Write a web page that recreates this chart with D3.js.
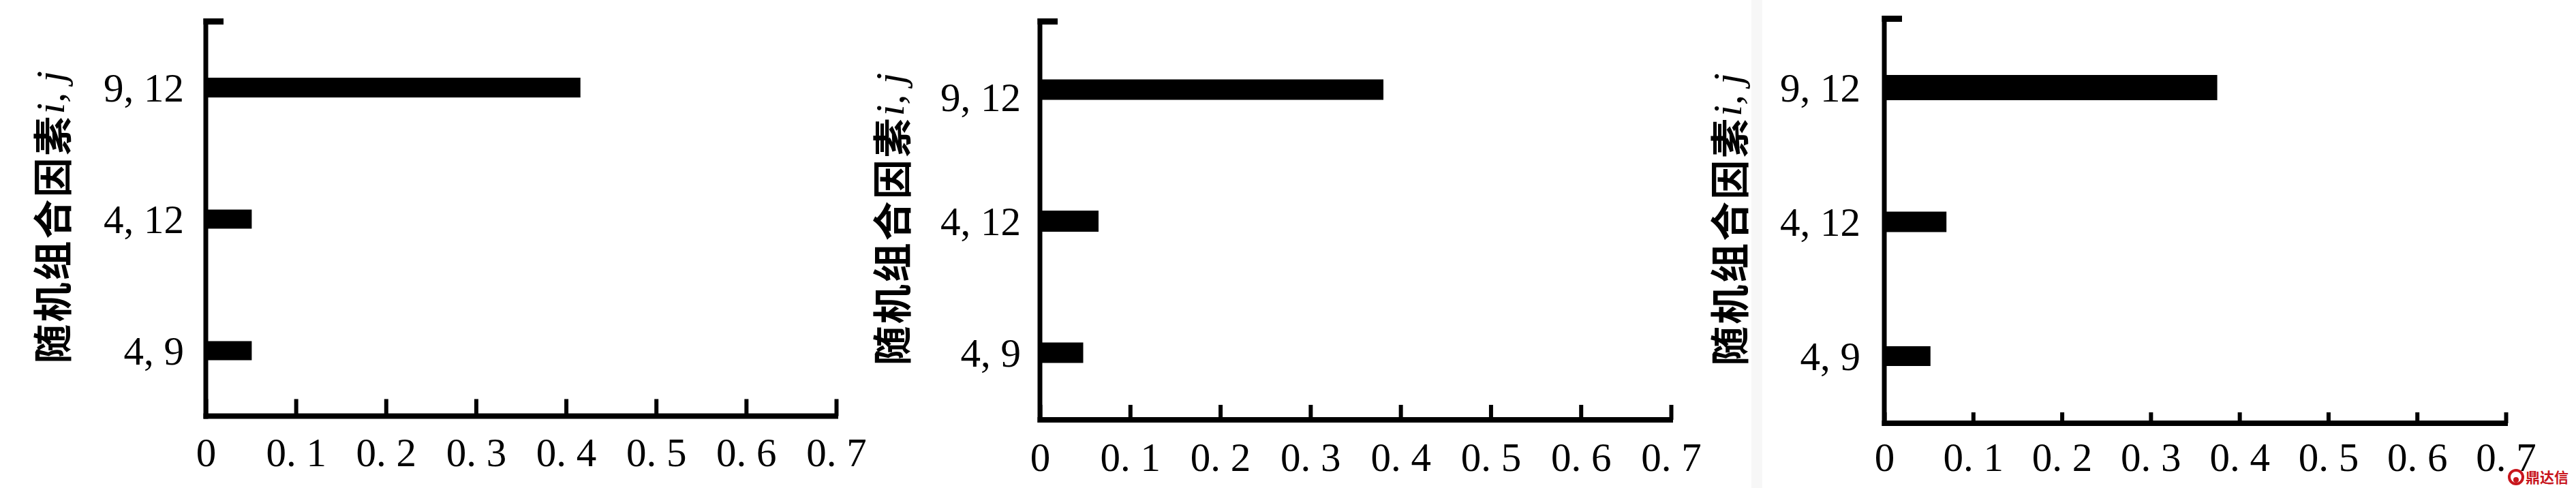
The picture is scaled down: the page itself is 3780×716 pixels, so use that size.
<!DOCTYPE html>
<html>
<head>
<meta charset="utf-8">
<script src="https://cdn.jsdelivr.net/npm/d3@7"></script>
<style>
  html, body { margin: 0; padding: 0; background: #ffffff; }
  svg { display: block; }
</style>
</head>
<body>
<script>
// ---------------- data ----------------
const categories = ["4, 9", "4, 12", "9, 12"];          // bottom to top
const valuesA = [0.051, 0.051, 0.416];                   // left panel
const valuesB = [0.048, 0.065, 0.381];                   // middle panel
const valuesC = [0.052, 0.070, 0.375];                   // right panel
const tickValues = [0, 0.1, 0.2, 0.3, 0.4, 0.5, 0.6, 0.7];
const tickLabels = ["0", "0. 1", "0. 2", "0. 3", "0. 4", "0. 5", "0. 6", "0. 7"];
const yTitleCJK = "随机组合因素";
const yTitleVar = "i, j";
const watermark = "鼎达信";

// ---------------- layout (per panel) ----------------
const W = 3780, H = 716;
const panels = [
  { values: valuesA, x0: 302, x1: 1227, axisY: 610.5, topY: 27, bandRange: [611, 32],
    tickLen: 25, titleX: 74, labelRight: 270, tickBase: 684, barH: [28, 28, 29], labelShift: [0, 0, 0] },
  { values: valuesB, x0: 1526, x1: 2452, axisY: 616, topY: 27, bandRange: [614, 35],
    tickLen: 22, titleX: 1306, labelRight: 1498, tickBase: 691, barH: [30, 31, 30], labelShift: [0, 0, 11] },
  { values: valuesC, x0: 2765, x1: 3677, axisY: 621, topY: 23, bandRange: [621, 30],
    tickLen: 16, titleX: 2535, labelRight: 2730, tickBase: 691, barH: [29, 30, 37], labelShift: [0, 0, 0] }
];

const svg = d3.select("body").append("svg")
  .attr("width", W).attr("height", H)
  .attr("viewBox", `0 0 ${W} ${H}`);

svg.append("rect").attr("width", W).attr("height", H).attr("fill", "#ffffff");
// faint scan strip before third panel
svg.append("rect").attr("x", 2570).attr("y", 0).attr("width", 16).attr("height", H).attr("fill", "#f7f7f7");

const serif = "'Liberation Serif', 'DejaVu Serif', serif";
const cjk = "'Noto Sans CJK SC', 'Noto Sans CJK JP', sans-serif";

panels.forEach((p) => {
  const g = svg.append("g");
  const x = d3.scaleLinear().domain([0, 0.7]).range([p.x0, p.x1]);
  const y = d3.scalePoint().domain(categories).range(p.bandRange).padding(0.5);

  // bars
  g.selectAll("rect.bar")
    .data(categories.map((c, i) => ({ c, v: p.values[i], h: p.barH[i] })))
    .enter().append("rect")
    .attr("class", "bar")
    .attr("x", x(0))
    .attr("y", d => y(d.c) - d.h / 2)
    .attr("width", d => x(d.v) - x(0))
    .attr("height", d => d.h)
    .attr("fill", "#000");

  // x axis
  const xAxis = d3.axisBottom(x)
    .tickValues(tickValues)
    .tickFormat((d, i) => tickLabels[i])
    .tickSizeInner(-p.tickLen)
    .tickSizeOuter(0)
    .tickPadding(0);
  const gx = g.append("g").attr("transform", `translate(0,${p.axisY})`).call(xAxis);
  gx.select(".domain").attr("stroke", "#000").attr("stroke-width", 8)
    .attr("d", `M${p.x0 - 3.5},0H${p.x1 + 3}`);
  gx.selectAll(".tick line").attr("stroke", "#000").attr("stroke-width", 6);
  gx.selectAll(".tick text")
    .attr("y", p.tickBase - p.axisY)
    .attr("dy", null)
    .attr("fill", "#000")
    .style("font-family", serif)
    .style("font-size", "59px");

  // y axis line + top stub
  g.append("line")
    .attr("x1", x(0)).attr("x2", x(0))
    .attr("y1", p.topY).attr("y2", p.axisY + 4)
    .attr("stroke", "#000").attr("stroke-width", 7);
  g.append("rect")
    .attr("x", x(0) - 3.5).attr("y", p.topY)
    .attr("width", 29.5).attr("height", 9)
    .attr("fill", "#000");

  // y labels via axis
  const yAxis = d3.axisLeft(y).tickSize(0).tickPadding(0);
  const gy = g.append("g").attr("transform", `translate(${p.labelRight},0)`).call(yAxis);
  gy.select(".domain").remove();
  gy.selectAll(".tick text")
    .attr("x", 0)
    .attr("dy", null)
    .attr("y", (d, i) => 20 + p.labelShift[categories.indexOf(d)])
    .attr("fill", "#000")
    .style("font-family", serif)
    .style("font-size", "59px");

  // y title
  const cy = (p.topY + p.axisY) / 2;
  const t = g.append("text")
    .attr("transform", `translate(${p.titleX},${cy}) rotate(-90)`)
    .attr("text-anchor", "middle")
    .attr("dominant-baseline", "central")
    .attr("fill", "#000");
  t.append("tspan").text(yTitleCJK)
    .style("font-family", cjk).style("font-weight", "bold").style("font-size", "58px").style("letter-spacing", "3px");
  t.append("tspan").text(yTitleVar)
    .style("font-family", serif).style("font-style", "italic").style("font-size", "60px");
});

// watermark
const wm = svg.append("g").attr("transform", "translate(3692,700)");
wm.append("circle").attr("r", 10).attr("fill", "none").attr("stroke", "#c8161d").attr("stroke-width", 4);
wm.append("circle").attr("cy", 4).attr("r", 4).attr("fill", "#c8161d");
wm.append("text").attr("x", 14).attr("y", 8)
  .attr("fill", "#c8161d")
  .style("font-family", cjk).style("font-weight", "bold").style("font-size", "21px")
  .text(watermark);
</script>
</body>
</html>
